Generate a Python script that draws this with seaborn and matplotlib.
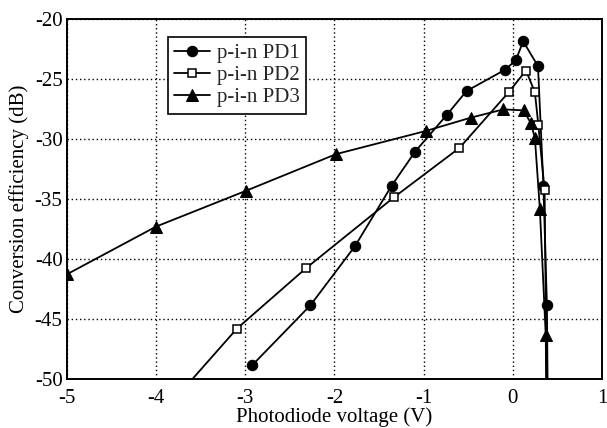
import numpy as np
import pandas as pd
import matplotlib
matplotlib.use("Agg")
import matplotlib.pyplot as plt
import seaborn as sns

# Data
pd1_v = [-2.92, -2.27, -1.77, -1.36, -1.095, -0.742, -0.52, -0.089, 0.033, 0.115, 0.281, 0.342, 0.381, 0.40]
pd1_db = [-48.84, -43.86, -38.93, -33.9, -31.04, -28.0, -26.0, -24.23, -23.43, -21.85, -23.93, -33.92, -43.86, -60.0]

pd2_v = [-3.9, -3.093, -2.318, -1.334, -0.599, -0.046, 0.146, 0.246, 0.285, 0.355, 0.39]
pd2_db = [-52.6, -45.8, -40.76, -34.86, -30.74, -26.09, -24.29, -26.09, -28.83, -34.25, -60.0]

pd3_v = [-5.0, -4.0, -2.99, -1.983, -0.977, -0.472, -0.107, 0.12, 0.198, 0.246, 0.302, 0.368, 0.385]
pd3_db = [-41.28, -37.3, -34.31, -31.26, -29.33, -28.22, -27.53, -27.61, -28.64, -29.88, -35.83, -46.35, -60.0]

labels = ["p-i-n PD1", "p-i-n PD2", "p-i-n PD3"]
x_ticks = [-5, -4, -3, -2, -1, 0, 1]
y_ticks = [-50, -45, -40, -35, -30, -25, -20]

sns.set_theme(style="white")
plt.rcParams['font.family'] = ['Liberation Serif', 'DejaVu Serif']

fig = plt.figure(figsize=(6.07, 4.28), dpi=100)
ax = fig.add_axes([0.110, 0.1145, 0.882, 0.841])

styles = [
    dict(marker="o", markersize=7.5, markerfacecolor="black", markeredgecolor="black"),
    dict(marker="s", markersize=6, markerfacecolor="white", markeredgecolor="black", markeredgewidth=1.1),
    dict(marker="^", markersize=8.5, markerfacecolor="black", markeredgecolor="black"),
]
series = [(pd1_v, pd1_db), (pd2_v, pd2_db), (pd3_v, pd3_db)]
for (xv, yv), lab, st in zip(series, labels, styles):
    df = pd.DataFrame({"V": xv, "dB": yv})
    sns.lineplot(data=df, x="V", y="dB", sort=False, ax=ax, color="black",
                 linewidth=1.3, label=lab, estimator=None, **st)

ax.set_xlim(-5, 1)
ax.set_ylim(-50, -20)
ax.set_xticks(x_ticks)
ax.set_yticks(y_ticks)
ax.set_xticklabels([str(t) for t in x_ticks])
ax.set_yticklabels([str(t) for t in y_ticks])
ax.grid(True, color="black", linestyle=(0, (1, 2)), linewidth=1.0)
ax.tick_params(axis="both", length=0, labelsize=15, colors="black")
ax.tick_params(axis="y", pad=3)
ax.tick_params(axis="x", pad=7)
for s in ax.spines.values():
    s.set_color("black")
    s.set_linewidth(1.4)
ax.set_xlabel("Photodiode voltage (V)", fontsize=15, color="black", labelpad=0)
ax.set_ylabel("Conversion efficiency (dB)", fontsize=15, color="black", labelpad=4)

leg = ax.legend(loc="upper left", bbox_to_anchor=(0.189, 0.949), fontsize=15,
                frameon=True, fancybox=False, edgecolor="black", framealpha=1,
                handlelength=1.7, handletextpad=0.35, borderpad=0.3, labelspacing=0.12,
                borderaxespad=0)
leg.get_frame().set_linewidth(1.2)

fig.savefig("out.png", dpi=100)
